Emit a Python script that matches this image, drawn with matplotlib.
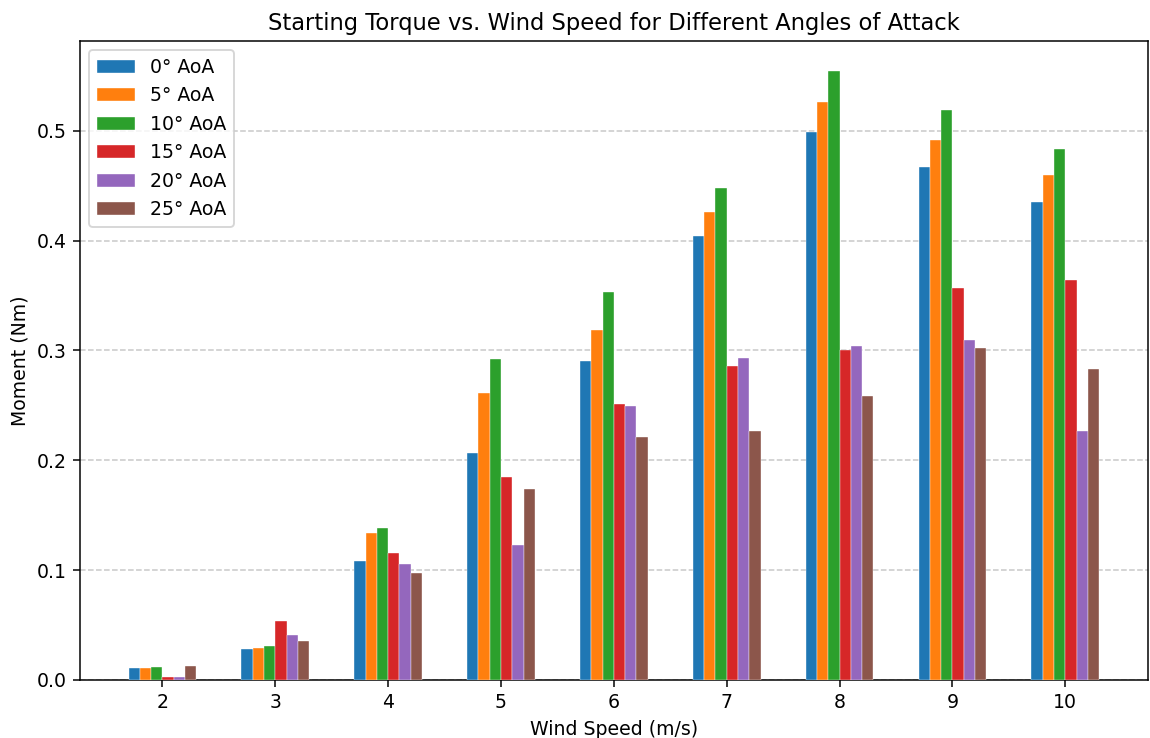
import numpy as np
import matplotlib
matplotlib.use("Agg")
import matplotlib.pyplot as plt

wind_speeds = [2, 3, 4, 5, 6, 7, 8, 9, 10]
angles = [0, 5, 10, 15, 20, 25]

moment_0 = [0.011, 0.028, 0.1085, 0.207, 0.290, 0.404, 0.499, 0.467, 0.4356]
moment_5 = [0.011, 0.0294, 0.1338, 0.261, 0.319, 0.426, 0.526, 0.492, 0.4597]
moment_10 = [0.012, 0.0307, 0.1386, 0.292, 0.353, 0.448, 0.554, 0.5185, 0.4833]
moment_15 = [0.003, 0.0535, 0.1159, 0.185, 0.251, 0.286, 0.3003, 0.3568, 0.3645]
moment_20 = [0.003, 0.041, 0.1058, 0.1228, 0.2495, 0.2935, 0.304, 0.3091, 0.227]
moment_25 = [0.013, 0.0358, 0.0973, 0.174, 0.221, 0.227, 0.2583, 0.3025, 0.2827]

series = [moment_0, moment_5, moment_10, moment_15, moment_20, moment_25]

DPI = 136
fig, ax = plt.subplots(figsize=(1150 / DPI, 738 / DPI), dpi=DPI)
fig.subplots_adjust(left=0.0696, right=0.998, top=0.9444, bottom=0.0786)

x = np.arange(len(wind_speeds))
width = 0.1
for i, (angle, vals) in enumerate(zip(angles, series)):
    ax.bar(x + (i - 2.5) * width, vals, width, label=f"{angle}° AoA",
           edgecolor="white", linewidth=0.2, zorder=3)

ax.set_xticks(x)
ax.set_xticklabels([str(w) for w in wind_speeds])
ax.set_xlabel("Wind Speed (m/s)")
ax.set_ylabel("Moment (Nm)")
ax.set_title("Starting Torque vs. Wind Speed for Different Angles of Attack")
ax.yaxis.grid(True, linestyle="--", alpha=0.7, zorder=0)
ax.legend(loc="upper left")

fig.savefig("out.png", dpi=DPI)
